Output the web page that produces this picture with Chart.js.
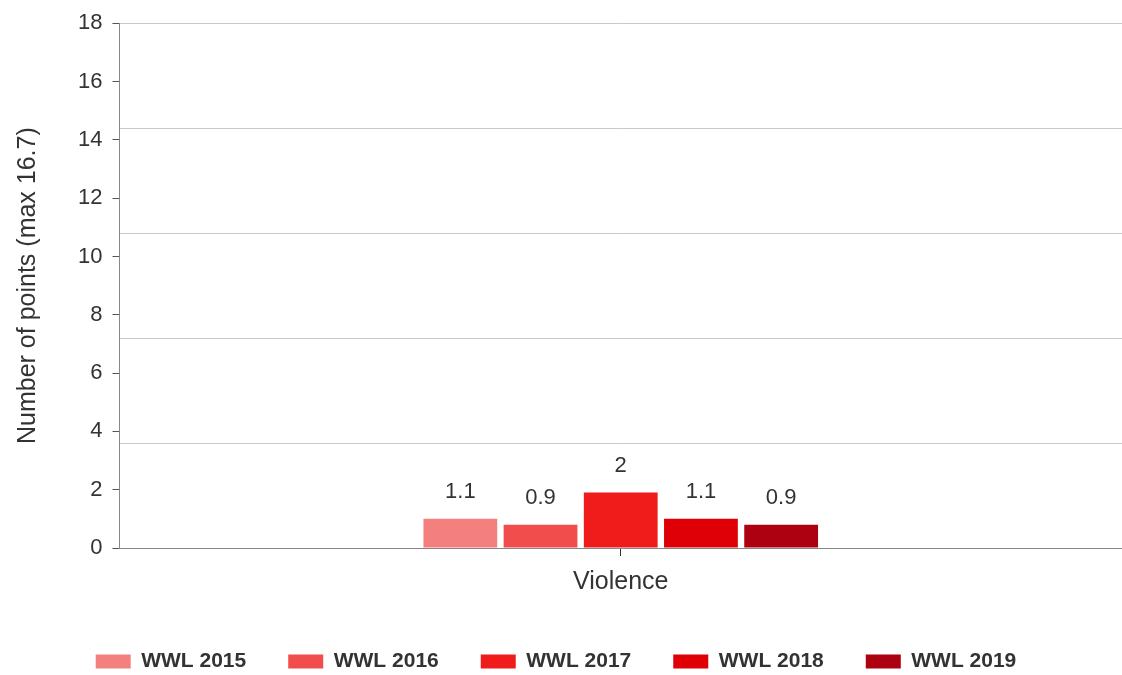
<!DOCTYPE html>
<html>
<head>
<meta charset="utf-8">
<script src="https://cdn.jsdelivr.net/npm/chart.js@4.4.0/dist/chart.umd.min.js"></script>
<style>
  html, body { margin: 0; padding: 0; background: #fff; }
  #wrap { width: 1122px; height: 675px; }
</style>
</head>
<body>
<div id="wrap"><canvas id="chart"></canvas></div>
<script>
const categories = ['Violence'];
const seriesNames = ['WWL 2015', 'WWL 2016', 'WWL 2017', 'WWL 2018', 'WWL 2019'];
const seriesValues = [1.0, 0.8, 1.9, 1.0, 0.8];
const seriesLabels = ['1.1', '0.9', '2', '1.1', '0.9'];
const seriesColors = ['#f47f7f', '#f24d4d', '#f01b1b', '#de0006', '#ad0010'];
const yTickStep = 2;
const yMax = 18;
const gridValues = [0, 3.6, 7.2, 10.8, 14.4, 18];

const FONT = "'Liberation Sans', Arial, sans-serif";
Chart.defaults.font.family = FONT;
Chart.defaults.color = '#333';

// value labels above each bar
const barLabelPlugin = {
    id: 'barLabels',
    afterDatasetsDraw(chart) {
        const ctx = chart.ctx;
        ctx.save();
        ctx.font = '22px ' + FONT;
        ctx.fillStyle = '#333';
        ctx.textAlign = 'center';
        ctx.textBaseline = 'middle';
        chart.data.datasets.forEach((ds, i) => {
            const bar = chart.getDatasetMeta(i).data[0];
            ctx.fillText(seriesLabels[i], bar.x, bar.y - 27);
        });
        ctx.restore();
    }
};

new Chart(document.getElementById('chart'), {
    type: 'bar',
    data: {
        labels: categories,
        datasets: seriesNames.map((name, i) => ({
            label: name,
            data: [seriesValues[i]],
            backgroundColor: seriesColors[i],
            borderWidth: 0,
            categoryPercentage: 0.4,
            barPercentage: 0.92
        }))
    },
    options: {
        responsive: true,
        maintainAspectRatio: false,
        animation: false,
        layout: { padding: { left: -10, right: 0, top: 11, bottom: -7 } },
        plugins: {
            tooltip: { enabled: false },
            legend: {
                position: 'bottom',
                labels: {
                    boxWidth: 35,
                    boxHeight: 14,
                    padding: 42,
                    color: '#333',
                    font: { size: 21, weight: 'bold', family: FONT }
                }
            }
        },
        scales: {
            x: {
                grid: { display: true, drawOnChartArea: false, offset: false, tickLength: 8, color: '#333' },
                border: { color: '#888' },
                ticks: { color: '#333', font: { size: 25 }, padding: 11 },
                afterFit: scale => { scale.height = 61; }
            },
            y: {
                min: 0,
                max: yMax,
                ticks: { stepSize: yTickStep, color: '#333', font: { size: 22 }, padding: 10 },
                grid: { drawOnChartArea: false, tickLength: 7, color: '#555' },
                border: { color: '#888' },
                title: {
                    display: true,
                    text: 'Number of points (max 16.7)',
                    color: '#333',
                    font: { size: 25 },
                    padding: { top: 23, bottom: 25 }
                }
            },
            g: {
                position: 'left',
                min: 0,
                max: yMax,
                afterBuildTicks: scale => { scale.ticks = gridValues.map(v => ({ value: v })); },
                ticks: { display: false },
                grid: { color: '#c8c8c8', drawTicks: false },
                border: { display: false }
            }
        }
    },
    plugins: [barLabelPlugin]
});
</script>
</body>
</html>
